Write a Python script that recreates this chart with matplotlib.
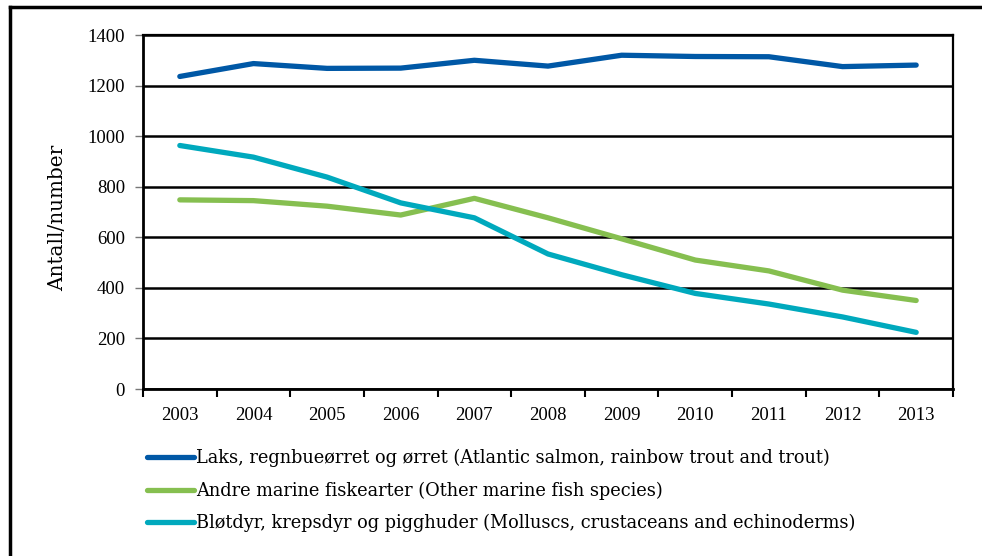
import matplotlib
matplotlib.use("Agg")
import matplotlib.pyplot as plt
import numpy as np
from matplotlib.lines import Line2D

years = ["2003", "2004", "2005", "2006", "2007", "2008", "2009", "2010", "2011", "2012", "2013"]
laks = [1236, 1287, 1268, 1269, 1300, 1277, 1320, 1315, 1314, 1275, 1281]
andre = [748, 745, 723, 688, 754, 677, 594, 510, 467, 391, 350]
blotdyr = [963, 917, 838, 736, 677, 534, 452, 378, 336, 285, 224]
labels = [
    "Laks, regnbueørret og ørret (Atlantic salmon, rainbow trout and trout)",
    "Andre marine fiskearter (Other marine fish species)",
    "Bløtdyr, krepsdyr og pigghuder (Molluscs, crustaceans and echinoderms)",
]
colors = ["#0058A6", "#86BF50", "#00A9BD"]
yticks = [0, 200, 400, 600, 800, 1000, 1200, 1400]

plt.rcParams["font.family"] = ["Liberation Serif", "DejaVu Serif"]

W, H = 982, 556
fig = plt.figure(figsize=(W / 100, H / 100), dpi=100)
ax = fig.add_axes([143 / W, 1 - 389 / H, (953 - 143) / W, (389 - 35) / H])

x = np.arange(len(years))
handles = []
for vals, c, lab in zip([laks, andre, blotdyr], colors, labels):
    ln, = ax.plot(x, vals, color=c, lw=3.8, solid_capstyle="round",
                  solid_joinstyle="round", label=lab, zorder=3)
    handles.append(ln)

ax.set_xlim(-0.5, len(years) - 0.5)
ax.set_ylim(0, 1400)
ax.set_yticks(yticks)
ax.set_yticklabels([str(v) for v in yticks], fontsize=13.5)
ax.set_xticks(np.arange(-0.5, len(years), 1.0))
ax.set_xticklabels([])
ax.set_xticks(x, minor=True)
ax.set_xticklabels(years, minor=True, fontsize=13.5)
ax.tick_params(axis="x", which="major", length=6, width=1.5, direction="out", color="black")
ax.tick_params(axis="x", which="minor", length=0, pad=13)
ax.tick_params(axis="y", length=6, width=1.0, color="#777777", pad=7)

ax.yaxis.grid(True, color="black", lw=1.8, zorder=1)
ax.set_axisbelow(True)
for s in ["left", "bottom"]:
    ax.spines[s].set_linewidth(2.0)
for s in ["top", "right"]:
    ax.spines[s].set_linewidth(1.6)

fig.text(58 / W, 1 - 218 / H, "Antall/number", rotation=90, fontsize=14.4,
         family="DejaVu Serif", ha="center", va="center")

# Outer frame
fig.add_artist(Line2D([10 / W, 10 / W], [0, 1 - 7 / H], color="black", lw=2.5,
                      transform=fig.transFigure))
fig.add_artist(Line2D([10 / W, 980 / W], [1 - 7 / H, 1 - 7 / H], color="black", lw=2.5,
                      transform=fig.transFigure))

leg = fig.legend(handles=handles, loc="upper left",
                 bbox_to_anchor=(140 / W, 1 - 442 / H), frameon=False,
                 prop={"family": "DejaVu Serif", "size": 12.8},
                 handlelength=2.65, handletextpad=0.12,
                 labelspacing=0.8, borderaxespad=0)

fig.savefig("out.png", dpi=100)
